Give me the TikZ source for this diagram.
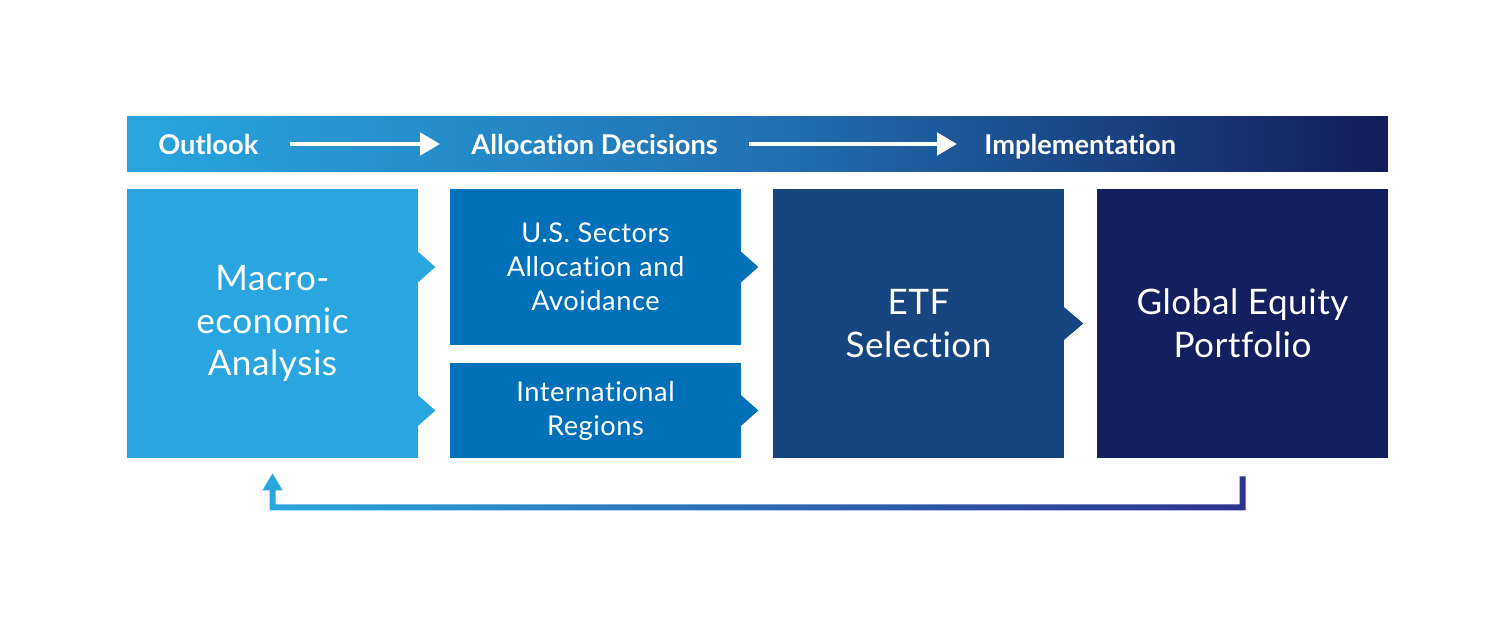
\documentclass[tikz,border=0pt]{standalone}
\usepackage{fontspec}
\setmainfont{Lato}[Ligatures=NoCommon]
\usetikzlibrary{shapes,arrows,arrows.meta,positioning,calc}

\definecolor{skyblue}{HTML}{29A6DF}
\definecolor{midblue}{HTML}{0070B8}
\definecolor{deepblue}{HTML}{174580}
\definecolor{navyblue}{HTML}{131F5E}
\definecolor{bannermid}{HTML}{2172B4}
\definecolor{bannerend}{HTML}{141C5A}
\definecolor{loopend}{HTML}{2E3190}

\begin{document}
\begin{tikzpicture}[x=0.02cm, y=-0.02cm,
    stage/.style={rectangle, inner sep=0pt, text=white, align=center, minimum width=5.82cm},
    bigtext/.style={font=\fontsize{20}{24.4}\selectfont\addfontfeatures{LetterSpace=1.5}},
    smalltext/.style={font=\fontsize{15.5}{19.3}\selectfont\addfontfeatures{LetterSpace=2}},
    headtext/.style={inner sep=0pt, text=white, font=\bfseries\fontsize{15.5}{17}\selectfont},
    headarrow/.style={-{Triangle[length=0.4cm, width=0.44cm]}, white, line width=0.1cm}]
    \useasboundingbox (0,0) rectangle (1501,625);

    % Top banner with the three phases
    \node[rectangle, inner sep=0pt, minimum width=25.22cm, minimum height=1.12cm,
          left color=skyblue, right color=bannerend, middle color=bannermid] (banner) at (757.5,144) {};
    \node[headtext, anchor=base west] (outlook) at (158,154.5) {Outlook};
    \node[headtext, anchor=base west] (alloc) at (471,154.5) {Allocation Decisions};
    \node[headtext, anchor=base west] (impl) at (984,154.5) {Implementation};
    \draw[headarrow, shorten <=0.62cm, shorten >=0.62cm] (outlook.east |- banner.center) -- (alloc.west |- banner.center);
    \draw[headarrow, shorten <=0.62cm, shorten >=0.54cm] (alloc.east |- banner.center) -- (impl.west |- banner.center);

    % Stage boxes
    \node[stage, bigtext, fill=skyblue, minimum height=5.38cm] (macro) at (272.5,323.5) {Macro-\\economic\\Analysis};
    \node[stage, smalltext, fill=midblue, minimum height=3.12cm] (sectors) at (595.5,267) {U.S. Sectors\\Allocation and\\Avoidance};
    \node[stage, smalltext, fill=midblue, minimum height=1.9cm] (regions) at (595.5,410.5) {International\\Regions};
    \node[stage, bigtext, fill=deepblue, minimum height=5.38cm] (etf) at (918.5,323.5) {ETF\\Selection};
    \node[stage, bigtext, fill=navyblue, minimum height=5.38cm] (portfolio) at (1242.5,323.5) {Global Equity\\Portfolio};

    % Pointed tabs between the boxes
    \fill[skyblue] ($(macro.east |- sectors.west)+(-1,-16)$) -- ++(18,16) -- ++(-18,16) -- cycle;
    \fill[skyblue] ($(macro.east |- regions.west)+(-1,-16)$) -- ++(18,16) -- ++(-18,16) -- cycle;
    \fill[midblue] ($(sectors.east)+(-1,-16)$) -- ++(18,16) -- ++(-18,16) -- cycle;
    \fill[midblue] ($(regions.east)+(-1,-16)$) -- ++(18,16) -- ++(-18,16) -- cycle;
    \fill[deepblue] ($(etf.east)+(-1,-17)$) -- ++(20,17) -- ++(-20,17) -- cycle;

    % Feedback loop back to the analysis
    \shade[left color=skyblue, right color=loopend]
        ($(portfolio.south)+(3,18)$) -- ($(portfolio.south)+(3,52)$)
        -- ($(macro.south)+(-3,52)$) -- ($(macro.south)+(-3,32)$)
        -- ($(macro.south)+(-10,32)$) -- ($(macro.south)+(0,15)$)
        -- ($(macro.south)+(10,32)$) -- ($(macro.south)+(3,32)$)
        -- ($(macro.south)+(3,46)$) -- ($(portfolio.south)+(-3,46)$)
        -- ($(portfolio.south)+(-3,18)$) -- cycle;
\end{tikzpicture}
\end{document}
